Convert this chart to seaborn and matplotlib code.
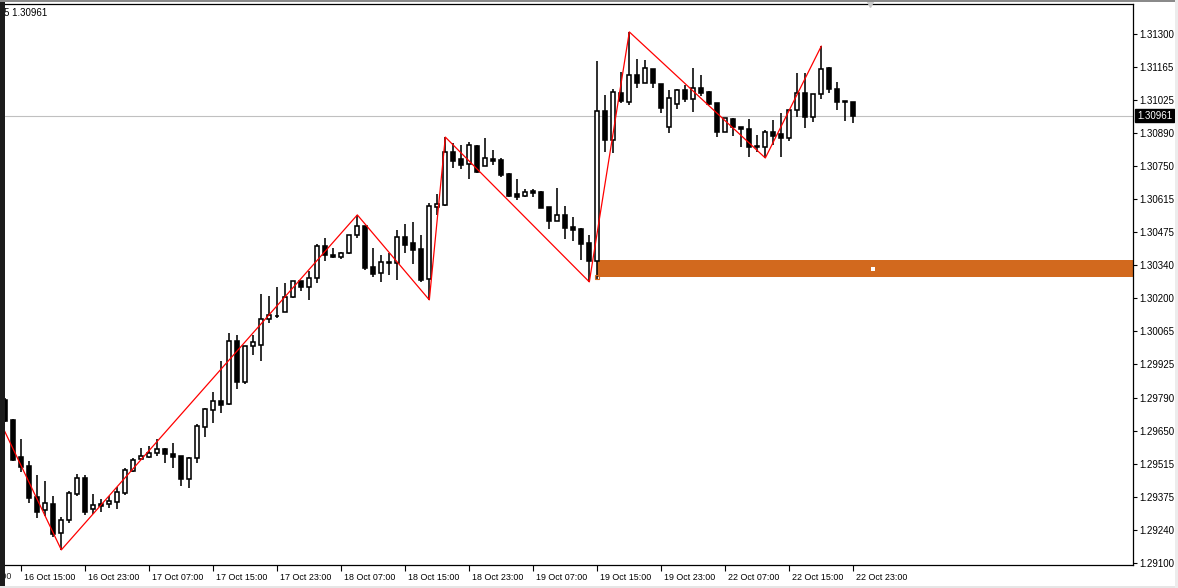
import numpy as np
import pandas as pd
import matplotlib
matplotlib.use("Agg")
import matplotlib.pyplot as plt
import seaborn as sns
from matplotlib.patches import Rectangle
from matplotlib.transforms import ScaledTranslation, blended_transform_factory

# ---------------- data ----------------
opens = [1.29777, 1.29694, 1.29540, 1.29502, 1.29373, 1.29319, 1.29344, 1.29223, 1.29278, 1.29386,
         1.29452, 1.29323, 1.29344, 1.29344, 1.29352, 1.29390, 1.29482, 1.29532, 1.29540, 1.29557,
         1.29573, 1.29552, 1.29544, 1.29448, 1.29536, 1.29665, 1.29736, 1.29773, 1.29761, 1.30023,
         1.29852, 1.30002, 1.30006, 1.30115, 1.30126, 1.30144, 1.30206, 1.30273, 1.30248, 1.30285,
         1.30418, 1.30381, 1.30373, 1.30389, 1.30464, 1.30502, 1.30331, 1.30306, 1.30352, 1.30348,
         1.30456, 1.30431, 1.30406, 1.30281, 1.30581, 1.30589, 1.30810, 1.30781, 1.30760, 1.30835,
         1.30752, 1.30781, 1.30777, 1.30718, 1.30635, 1.30627, 1.30647, 1.30643, 1.30581, 1.30523,
         1.30548, 1.30498, 1.30489, 1.30431, 1.30356, 1.30981, 1.30860, 1.31056, 1.31018, 1.31131,
         1.31097, 1.31156, 1.31093, 1.30914, 1.31010, 1.31068, 1.31031, 1.31076, 1.31060, 1.31014,
         1.30893, 1.30947, 1.30914, 1.30906, 1.30833, 1.30831, 1.30893, 1.30885, 1.30868, 1.30985,
         1.31056, 1.30956, 1.31051, 1.31160, 1.31072, 1.31022, 1.31018]
highs = [1.29786, 1.29698, 1.29615, 1.29523, 1.29465, 1.29440, 1.29377, 1.29290, 1.29398, 1.29469,
         1.29465, 1.29386, 1.29365, 1.29377, 1.29415, 1.29494, 1.29536, 1.29577, 1.29586, 1.29615,
         1.29577, 1.29598, 1.29544, 1.29540, 1.29677, 1.29744, 1.29811, 1.29940, 1.30056, 1.30048,
         1.30002, 1.30048, 1.30219, 1.30210, 1.30248, 1.30264, 1.30273, 1.30273, 1.30314, 1.30427,
         1.30452, 1.30410, 1.30393, 1.30464, 1.30548, 1.30502, 1.30410, 1.30381, 1.30389, 1.30485,
         1.30510, 1.30518, 1.30464, 1.30598, 1.30635, 1.30872, 1.30847, 1.30839, 1.30852, 1.30839,
         1.30868, 1.30818, 1.30785, 1.30722, 1.30697, 1.30656, 1.30656, 1.30647, 1.30581, 1.30660,
         1.30585, 1.30539, 1.30493, 1.30464, 1.31189, 1.31047, 1.31072, 1.31143, 1.31310, 1.31197,
         1.31193, 1.31156, 1.31093, 1.31068, 1.31072, 1.31089, 1.31160, 1.31131, 1.31064, 1.31014,
         1.30951, 1.30951, 1.30914, 1.30947, 1.30881, 1.30901, 1.30943, 1.30972, 1.30985, 1.31139,
         1.31139, 1.31051, 1.31251, 1.31164, 1.31101, 1.31022, 1.31018]
lows = [1.29686, 1.29523, 1.29477, 1.29348, 1.29286, 1.29294, 1.29207, 1.29153, 1.29265, 1.29377,
        1.29298, 1.29302, 1.29311, 1.29327, 1.29323, 1.29382, 1.29477, 1.29527, 1.29536, 1.29544,
        1.29515, 1.29494, 1.29419, 1.29411, 1.29515, 1.29623, 1.29681, 1.29723, 1.29756, 1.29823,
        1.29844, 1.29965, 1.29940, 1.30098, 1.30119, 1.30144, 1.30202, 1.30231, 1.30194, 1.30264,
        1.30356, 1.30369, 1.30364, 1.30385, 1.30452, 1.30319, 1.30289, 1.30269, 1.30298, 1.30277,
        1.30389, 1.30344, 1.30269, 1.30194, 1.30548, 1.30585, 1.30743, 1.30739, 1.30697, 1.30722,
        1.30752, 1.30756, 1.30706, 1.30622, 1.30610, 1.30622, 1.30622, 1.30577, 1.30489, 1.30523,
        1.30448, 1.30439, 1.30360, 1.30269, 1.30277, 1.30810, 1.30806, 1.31014, 1.31006, 1.31076,
        1.31097, 1.31076, 1.30972, 1.30889, 1.30989, 1.31018, 1.30976, 1.31043, 1.31006, 1.30872,
        1.30893, 1.30876, 1.30831, 1.30789, 1.30810, 1.30785, 1.30839, 1.30789, 1.30856, 1.30956,
        1.30910, 1.30935, 1.31031, 1.31056, 1.30985, 1.30939, 1.30931]
closes = [1.29690, 1.29527, 1.29498, 1.29369, 1.29311, 1.29348, 1.29219, 1.29278, 1.29390, 1.29452,
          1.29311, 1.29340, 1.29336, 1.29357, 1.29394, 1.29486, 1.29527, 1.29544, 1.29557, 1.29573,
          1.29552, 1.29540, 1.29448, 1.29536, 1.29669, 1.29740, 1.29773, 1.29756, 1.30023, 1.29852,
          1.30002, 1.30019, 1.30115, 1.30131, 1.30128, 1.30206, 1.30273, 1.30248, 1.30285, 1.30418,
          1.30381, 1.30373, 1.30389, 1.30464, 1.30502, 1.30327, 1.30302, 1.30352, 1.30348, 1.30456,
          1.30423, 1.30402, 1.30277, 1.30585, 1.30593, 1.30810, 1.30772, 1.30756, 1.30839, 1.30727,
          1.30785, 1.30772, 1.30714, 1.30627, 1.30622, 1.30643, 1.30639, 1.30577, 1.30523, 1.30548,
          1.30493, 1.30485, 1.30427, 1.30356, 1.30981, 1.30860, 1.31060, 1.31022, 1.31131, 1.31097,
          1.31160, 1.31097, 1.30993, 1.31035, 1.31068, 1.31031, 1.31076, 1.31056, 1.31010, 1.30893,
          1.30951, 1.30914, 1.30906, 1.30831, 1.30831, 1.30893, 1.30876, 1.30868, 1.30985, 1.31056,
          1.30956, 1.31051, 1.31156, 1.31072, 1.31018, 1.31018, 1.30961]

zigzag_bar = [-1, 7, 44, 53, 55, 73, 78, 95, 102]
zigzag_price = [1.29711, 1.29153, 1.30548, 1.30194, 1.30872, 1.30269, 1.31310, 1.30785, 1.31251]

time_tick_bar = [-6, 2, 10, 18, 26, 34, 42, 50, 58, 66, 74, 82, 90, 98, 106]
time_tick_labels = ["16 Oct 07:00", "16 Oct 15:00", "16 Oct 23:00", "17 Oct 07:00", "17 Oct 15:00",
                    "17 Oct 23:00", "18 Oct 07:00", "18 Oct 15:00", "18 Oct 23:00", "19 Oct 07:00",
                    "19 Oct 15:00", "19 Oct 23:00", "22 Oct 07:00", "22 Oct 15:00", "22 Oct 23:00"]

price_ticks = [1.29100, 1.292375, 1.29375, 1.295125, 1.29650, 1.297875, 1.29925, 1.300625, 1.30200,
               1.303375, 1.30475, 1.306125, 1.30750, 1.308875, 1.31025, 1.311625, 1.31300]
price_tick_labels = ["1.29100", "1.29240", "1.29375", "1.29515", "1.29650", "1.29790", "1.29925",
                     "1.30065", "1.30200", "1.30340", "1.30475", "1.30615", "1.30750", "1.30890",
                     "1.31025", "1.31165", "1.31300"]

last_price = 1.30961
zone_start_bar = 74
zone_low = 1.30289
zone_high = 1.30360
header_text = "5 1.30961"

# ---------------- style ----------------
sns.set_style("white")
plt.rcParams["font.family"] = ["Liberation Sans", "DejaVu Sans"]
FS = 7.0
FSX = 6.4

W, H = 1178, 588
fig = plt.figure(figsize=(W / 100, H / 100), dpi=100, facecolor="white")
ax_left, ax_right, ax_top, ax_bot = 5, 1133, 4.3, 565
ax = fig.add_axes([ax_left / W, 1 - ax_bot / H, (ax_right - ax_left) / W, (ax_bot - ax_top) / H])
ax.set_facecolor("white")

df = pd.DataFrame({"bar": np.arange(len(opens)), "open": opens, "high": highs,
                   "low": lows, "close": closes})
df["bull"] = df["close"] >= df["open"]

# zone rectangle (background)
ax.add_patch(Rectangle((zone_start_bar, zone_low), 200, zone_high - zone_low,
                       facecolor="#D2691E", edgecolor="none", zorder=0.5))
ax.plot([zone_start_bar], [zone_low], marker="s", markersize=3.2, markerfacecolor="none",
        markeredgecolor="#D2691E", markeredgewidth=0.8, zorder=5)
ax.plot([108.5], [(zone_low + zone_high) / 2], marker="s", markersize=2.2, color="white",
        markeredgewidth=0, zorder=1)

# last price line
ax.axhline(last_price, color="#c0c0c0", lw=0.8, zorder=0.6)

# wicks
ax.vlines(df["bar"], df["low"], df["high"], color="black", lw=1.15, zorder=2)
# bodies
body_bottom = np.minimum(df["open"], df["close"])
body_height = np.abs(df["close"] - df["open"])
ax.bar(df["bar"], body_height, bottom=body_bottom, width=0.5,
       color=np.where(df["bull"], "white", "black"), edgecolor="black", linewidth=1.15, zorder=3)

# zigzag
zz = pd.DataFrame({"bar": zigzag_bar, "price": zigzag_price})
sns.lineplot(data=zz, x="bar", y="price", color="red", lw=0.9, ax=ax, zorder=4, sort=False)

# shift marker
ax.plot([108.1], [1.31425], marker="v", markersize=4.5, color="#c8c8c8", clip_on=False, zorder=6)

ax.set_xlim(-0.04, 140.96)
ax.set_ylim(1.29090, 1.31425)
ax.set_xlabel("")
ax.set_ylabel("")

# axes / spines
for s in ["top", "right", "bottom"]:
    ax.spines[s].set_visible(True)
    ax.spines[s].set_color("black")
    ax.spines[s].set_linewidth(0.9)
ax.spines["left"].set_visible(False)

ax.yaxis.tick_right()
ax.set_yticks(price_ticks)
ax.set_yticklabels(price_tick_labels)
ax.tick_params(axis="y", direction="out", length=3, width=0.8, pad=1.5, labelsize=FS,
               colors="black", left=False, right=True)

vis_ticks = [b for b in time_tick_bar if b >= 0]
vis_labels = [l for b, l in zip(time_tick_bar, time_tick_labels) if b >= 0]
ax.set_xticks(vis_ticks)
ax.set_xticklabels(vis_labels)
ax.tick_params(axis="x", direction="out", length=4, width=0.8, pad=1.8, labelsize=FSX,
               colors="black", bottom=True, top=False)
off = ScaledTranslation(2.5 / 100, 0, fig.dpi_scale_trans)
for lab in ax.get_xticklabels():
    lab.set_horizontalalignment("left")
    lab.set_transform(lab.get_transform() + off)
# partially hidden label left of the view
for b, l in zip(time_tick_bar, time_tick_labels):
    if b < 0:
        tr = blended_transform_factory(ax.transData, ax.transAxes) + off
        ax.text(b, -0.0118, l, transform=tr, ha="left", va="top", fontsize=FSX, clip_on=False)
        ax.plot([b, b], [0, -0.007], transform=blended_transform_factory(ax.transData, ax.transAxes),
                color="black", lw=0.8, clip_on=False)

# last price tag
ax.annotate(f"{last_price:.5f}", xy=(1, last_price), xycoords=("axes fraction", "data"),
            xytext=(3.0, 0), textcoords="offset points", ha="left", va="center",
            fontsize=FS, color="white",
            bbox=dict(boxstyle="square,pad=0.18", fc="black", ec="black"), zorder=7)

# header text
fig.text(4 / W, 1 - 13 / H, header_text, ha="left", va="center", fontsize=FS, color="black")

# window frame decorations
fig.add_artist(Rectangle((0, 0), 5 / W, 1, transform=fig.transFigure,
                         facecolor="#1c1c1c", edgecolor="none", zorder=20))
fig.add_artist(Rectangle((0, 1 - 2 / H), 1, 2 / H, transform=fig.transFigure,
                         facecolor="#8a8a8a", edgecolor="none", zorder=20))
fig.add_artist(Rectangle((0, 0), 1, 2.5 / H, transform=fig.transFigure,
                         facecolor="#e6e6e6", edgecolor="none", zorder=20))
fig.add_artist(Rectangle((1 - 3 / W, 0), 3 / W, 1, transform=fig.transFigure,
                         facecolor="#ececec", edgecolor="none", zorder=20))

fig.savefig("out.png", dpi=100, facecolor="white")
